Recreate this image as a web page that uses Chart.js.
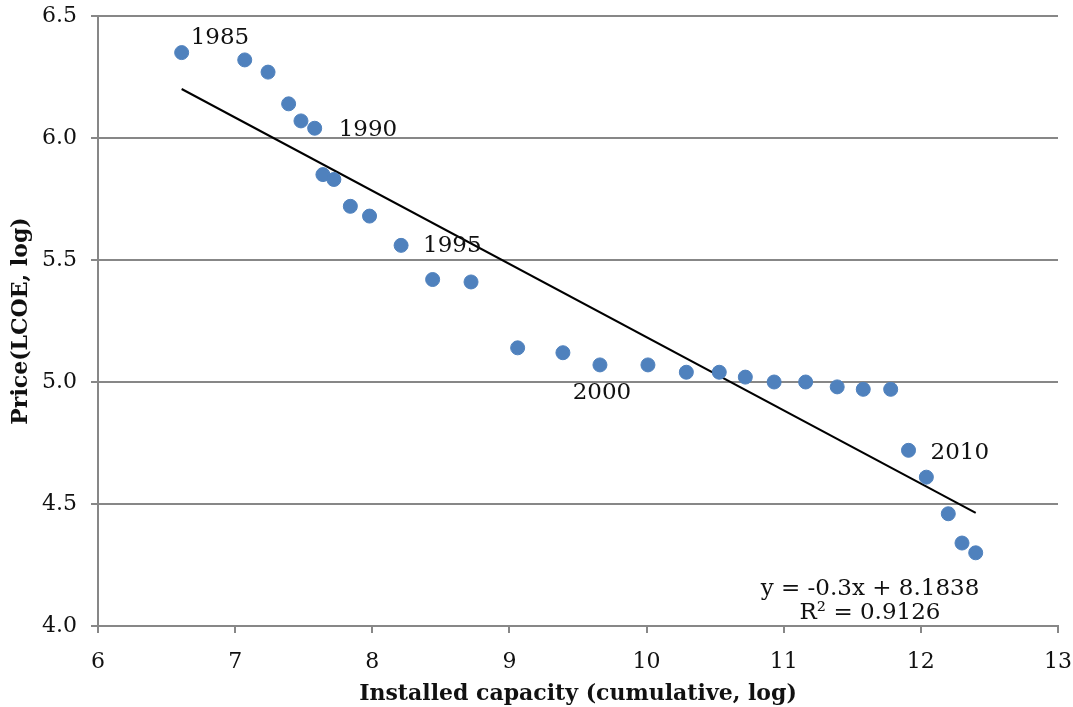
<!DOCTYPE html>
<html>
<head>
<meta charset="utf-8">
<script src="https://cdn.jsdelivr.net/npm/chart.js@4.4.1/dist/chart.umd.min.js"></script>
<style>
  body { margin: 0; background: #fff; }
  #chart { display: block; }
</style>
</head>
<body>
<canvas id="chart" width="1073" height="707"></canvas>
<script>
// installed capacity (cumulative, log), 1985..2014
const capacity = [6.61, 7.07, 7.24, 7.39, 7.48, 7.58, 7.64, 7.72, 7.84, 7.98,
  8.21, 8.44, 8.72, 9.06, 9.39, 9.66, 10.01, 10.29, 10.53, 10.72,
  10.93, 11.16, 11.39, 11.58, 11.78, 11.91, 12.04, 12.20, 12.30, 12.40];
// price (LCOE, log)
const price = [6.35, 6.32, 6.27, 6.14, 6.07, 6.04, 5.85, 5.83, 5.72, 5.68,
  5.56, 5.42, 5.41, 5.14, 5.12, 5.07, 5.07, 5.04, 5.04, 5.02,
  5.00, 5.00, 4.98, 4.97, 4.97, 4.72, 4.61, 4.46, 4.34, 4.30];
const firstYear = 1985;
const yearLabels = [1985, 1990, 1995, 2000, 2010];
const slope = -0.3;
const intercept = 8.1838;
const rSquared = 0.9126;

const points = capacity.map((x, i) => ({ x: x, y: price[i] }));
const xMin = Math.min(...capacity), xMax = Math.max(...capacity);
const trend = [
  { x: xMin, y: slope * xMin + intercept },
  { x: xMax, y: slope * xMax + intercept }
];

const serif = "'DejaVu Serif', 'Liberation Serif', serif";
const gridGrey = "#878787";

// year labels next to points + trendline equation
const annotations = {
  id: "annotations",
  afterDatasetsDraw(chart) {
    const ctx = chart.ctx;
    const xs = chart.scales.x, ys = chart.scales.y;
    ctx.save();
    ctx.fillStyle = "#111";
    ctx.font = "23px " + serif;
    ctx.textBaseline = "middle";
    // offsets of each label from its point
    const offs = { 1985: [9, -15, "left"], 1990: [24, 2, "left"], 1995: [22, 1, "left"],
      2000: [2, 28, "center"], 2010: [22, 3, "left"] };
    yearLabels.forEach(yr => {
      const i = yr - firstYear;
      const px = xs.getPixelForValue(capacity[i]);
      const py = ys.getPixelForValue(price[i]);
      const o = offs[yr];
      ctx.textAlign = o[2];
      ctx.fillText(String(yr), px + o[0], py + o[1]);
    });
    const ca = chart.chartArea;
    ctx.textAlign = "center";
    const cx = ca.right - 188;
    ctx.fillText("y = " + slope + "x + " + intercept, cx, ca.bottom - 37);
    ctx.fillText("R\u00B2 = " + rSquared, cx, ca.bottom - 13);
    ctx.restore();
  }
};

new Chart(document.getElementById("chart"), {
  type: "scatter",
  data: {
    datasets: [
      {
        label: "Price",
        data: points,
        backgroundColor: "#4f81bd",
        borderColor: "#4f81bd",
        pointRadius: 7,
        pointHoverRadius: 7
      },
      {
        label: "Linear trend",
        type: "line",
        data: trend,
        borderColor: "#000",
        borderWidth: 2,
        pointRadius: 0,
        fill: false
      }
    ]
  },
  options: {
    responsive: false,
    animation: false,
    layout: { padding: { top: 16, right: 15, left: 8, bottom: 0 } },
    plugins: {
      legend: { display: false },
      tooltip: { enabled: false }
    },
    scales: {
      x: {
        type: "linear",
        min: 6,
        max: 13,
        afterFit(scale) {
          scale.height = 81;
          scale.paddingLeft = 0;
          scale.paddingRight = 0;
        },
        ticks: {
          stepSize: 1,
          color: "#111",
          font: { family: serif, size: 22 },
          padding: 16
        },
        grid: { drawOnChartArea: false, drawTicks: true, tickLength: 7, color: gridGrey, lineWidth: 2 },
        border: { color: gridGrey, width: 2 },
        title: {
          display: true,
          text: "Installed capacity (cumulative, log)",
          color: "#111",
          font: { family: serif, size: 22, weight: "bold" },
          padding: { top: 0, bottom: 0 }
        }
      },
      y: {
        min: 4,
        max: 6.5,
        afterFit(scale) {
          scale.width = 90;
          scale.paddingTop = 0;
          scale.paddingBottom = 0;
        },
        ticks: {
          stepSize: 0.5,
          color: "#111",
          font: { family: serif, size: 22 },
          padding: 14,
          callback: v => v.toFixed(1)
        },
        grid: { color: gridGrey, lineWidth: 2, tickLength: 7 },
        border: { color: gridGrey, width: 2 },
        title: {
          display: true,
          text: "Price(LCOE, log)",
          color: "#111",
          font: { family: serif, size: 22, weight: "bold" },
          padding: { top: 0, bottom: 0 }
        }
      }
    }
  },
  plugins: [annotations]
});
</script>
</body>
</html>
